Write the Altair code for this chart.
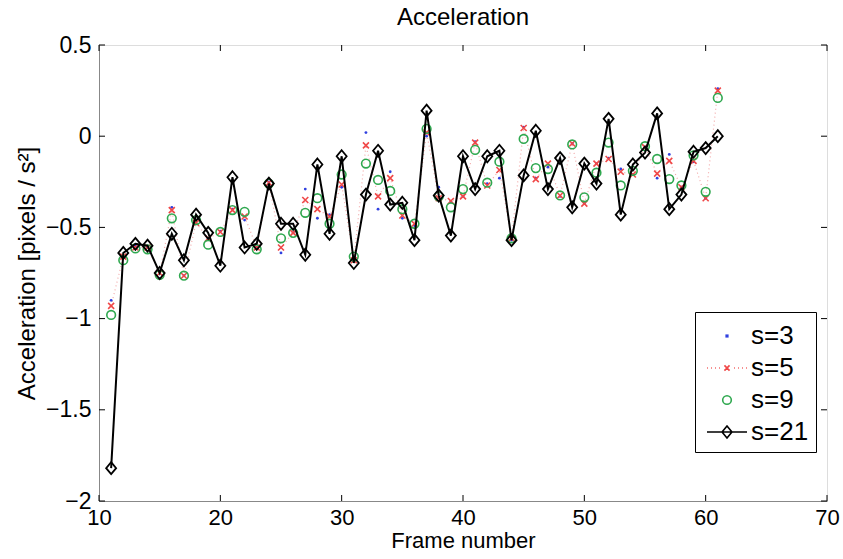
import altair as alt
import pandas as pd

frames = list(range(11, 62))

s3 = [-0.90, -0.66, -0.60, -0.61, -0.78, -0.39, -0.765, -0.48, -0.56, -0.52,
      -0.40, -0.46, -0.61, -0.25, -0.64, -0.53, -0.29, -0.45, -0.43, -0.28,
      -0.68, 0.02, -0.40, -0.195, -0.45, -0.49, 0.0, -0.28, -0.36, -0.33,
      -0.03, -0.26, -0.23, -0.57, 0.05, -0.23, -0.17, -0.33, -0.04, -0.37,
      -0.15, -0.12, -0.18, -0.21, -0.06, -0.23, -0.10, -0.28, -0.14, -0.34, 0.26]

s5 = [-0.93, -0.66, -0.61, -0.61, -0.75, -0.405, -0.765, -0.475, -0.56, -0.525,
      -0.405, -0.44, -0.61, -0.255, -0.61, -0.53, -0.35, -0.40, -0.44, -0.265,
      -0.68, -0.05, -0.33, -0.23, -0.435, -0.48, 0.02, -0.34, -0.355, -0.33,
      -0.035, -0.27, -0.185, -0.56, 0.045, -0.235, -0.15, -0.325, -0.04, -0.37,
      -0.15, -0.125, -0.195, -0.21, -0.06, -0.205, -0.135, -0.28, -0.135, -0.34, 0.25]

s9 = [-0.98, -0.68, -0.615, -0.62, -0.76, -0.45, -0.765, -0.46, -0.595, -0.525,
      -0.405, -0.415, -0.62, -0.26, -0.56, -0.53, -0.42, -0.34, -0.48, -0.21,
      -0.66, -0.15, -0.24, -0.30, -0.40, -0.48, 0.04, -0.33, -0.39, -0.29,
      -0.075, -0.255, -0.14, -0.56, -0.015, -0.175, -0.18, -0.325, -0.045, -0.335,
      -0.20, -0.035, -0.27, -0.19, -0.055, -0.125, -0.235, -0.27, -0.105, -0.305, 0.21]

s21 = [-1.82, -0.64, -0.59, -0.60, -0.75, -0.535, -0.68, -0.43, -0.53, -0.71,
       -0.225, -0.61, -0.59, -0.26, -0.48, -0.48, -0.65, -0.155, -0.535, -0.11,
       -0.695, -0.32, -0.08, -0.375, -0.365, -0.57, 0.14, -0.325, -0.545, -0.11,
       -0.29, -0.11, -0.08, -0.57, -0.215, 0.03, -0.29, -0.12, -0.39, -0.15,
       -0.26, 0.095, -0.43, -0.155, -0.09, 0.125, -0.40, -0.32, -0.085, -0.065, 0.0]

series_names = ["s=3", "s=5", "s=9", "s=21"]
x_ticks = [10, 20, 30, 40, 50, 60, 70]
y_ticks = [0.5, 0, -0.5, -1, -1.5, -2]

W, H = 728, 456
FONT = "Liberation Sans"

BLUE = "#3040e0"
RED = "#f04848"
GREEN = "#2fa84f"
PINK = "#f2a8a8"

df = pd.DataFrame({
    "frame": frames * 4,
    "value": s3 + s5 + s9 + s21,
    "series": sum([[n] * len(frames) for n in series_names], []),
})
d3 = df[df.series == "s=3"]
d5 = df[df.series == "s=5"]
d9 = df[df.series == "s=9"]
d21 = df[df.series == "s=21"]

xscale = alt.Scale(domain=[10, 70], nice=False, zero=False)
yscale = alt.Scale(domain=[-2, 0.5], nice=False, zero=False)

x_axis = alt.Axis(values=x_ticks, tickSize=0, grid=False, labelFontSize=22, format="d",
                  labelPadding=6, title="Frame number", titleFontSize=22,
                  titleFontWeight="normal", titlePadding=2, labelFlush=False)
y_axis = alt.Axis(values=y_ticks, tickSize=0, grid=False, labelFontSize=23, format="~g",
                  labelPadding=8, title="Acceleration [pixels / s²]", titleFontSize=24,
                  titleFontWeight="normal", titlePadding=6, labelFlush=False)

X = alt.X("frame:Q", scale=xscale, axis=x_axis)
Y = alt.Y("value:Q", scale=yscale, axis=y_axis)

line5 = alt.Chart(d5).mark_line(color=PINK, strokeDash=[1, 3], strokeWidth=1.2).encode(x=X, y=Y)
pts3 = alt.Chart(d3).mark_point(shape="circle", filled=True, size=8, color=BLUE, opacity=1).encode(x=X, y=Y)
pts5 = alt.Chart(d5).mark_point(shape="M-1,-1L1,1M-1,1L1,-1", size=36, color=RED,
                                strokeWidth=1.6, opacity=1).encode(x=X, y=Y)
pts9 = alt.Chart(d9).mark_point(shape="circle", filled=False, size=75, color=GREEN,
                                strokeWidth=1.6, opacity=1).encode(x=X, y=Y)
line21 = alt.Chart(d21).mark_line(color="black", strokeWidth=2).encode(x=X, y=Y)
pts21 = alt.Chart(d21).mark_point(shape="M0,-1.2L1,0L0,1.2L-1,0Z", filled=False, size=100,
                                  color="black", strokeWidth=1.8, opacity=1).encode(x=X, y=Y)

legend_shapes = [
    "M-0.05,-0.05L0.05,-0.05L0.05,0.05L-0.05,0.05Z",
    "M-1.25,0L-1.2,0M-1.0,0L-0.95,0M-0.75,0L-0.7,0M-0.5,0L-0.45,0M0.45,0L0.5,0M0.7,0L0.75,0M0.95,0L1.0,0M1.2,0L1.25,0"
    "M-0.16,-0.16L0.16,0.16M-0.16,0.16L0.16,-0.16",
    "M0.27,0A0.27,0.27,0,1,1,-0.27,0A0.27,0.27,0,1,1,0.27,0Z",
    "M-1.25,0L1.25,0M0,-0.38L0.31,0L0,0.38L-0.31,0Z",
]
legend_layer = alt.Chart(df).mark_point(opacity=0, filled=False).encode(
    x=X, y=Y,
    color=alt.Color("series:N", title=None,
                    scale=alt.Scale(domain=series_names, range=[BLUE, RED, GREEN, "black"]),
                    legend=alt.Legend(orient="none", legendX=596, legendY=267,
                                      symbolSize=1024, symbolOpacity=1, symbolStrokeWidth=1.6,
                                      symbolFillColor="transparent",
                                      labelFontSize=26, labelFont=FONT, labelColor="black",
                                      labelOffset=7, rowPadding=2, padding=7,
                                      strokeColor="black", fillColor="white", symbolOffset=8)),
    shape=alt.Shape("series:N", title=None,
                    scale=alt.Scale(domain=series_names, range=legend_shapes)),
)

tick_x = pd.DataFrame({"t": x_ticks})
tick_y = pd.DataFrame({"t": y_ticks})
tx = alt.X("t:Q", scale=xscale, axis=x_axis)
ty = alt.Y("t:Q", scale=yscale, axis=y_axis)
tb = alt.Chart(tick_x).mark_rule(color="black", strokeWidth=1).encode(x=tx, y=alt.value(H), y2=alt.value(H - 6))
tt = alt.Chart(tick_x).mark_rule(color="black", strokeWidth=1).encode(x=tx, y=alt.value(0), y2=alt.value(6))
tl = alt.Chart(tick_y).mark_rule(color="black", strokeWidth=1).encode(y=ty, x=alt.value(0), x2=alt.value(6))
tr = alt.Chart(tick_y).mark_rule(color="black", strokeWidth=1).encode(y=ty, x=alt.value(W), x2=alt.value(W - 6))

chart = alt.layer(line5, pts3, pts5, pts9, line21, pts21, legend_layer, tb, tt, tl, tr).properties(
    width=W, height=H,
    title=alt.Title("Acceleration", fontSize=24, fontWeight="normal", font=FONT, offset=4),
    autosize=alt.AutoSizeParams(type="none"),
    padding={"left": 99, "top": 45, "right": 16, "bottom": 58},
).configure_view(stroke="black", strokeWidth=1).configure_axis(
    labelFont=FONT, titleFont=FONT, labelColor="black", titleColor="black",
    domainColor="black", domainWidth=1,
).configure(background="white")

chart.save("out.html", embed_options={"renderer": "svg", "actions": False})
